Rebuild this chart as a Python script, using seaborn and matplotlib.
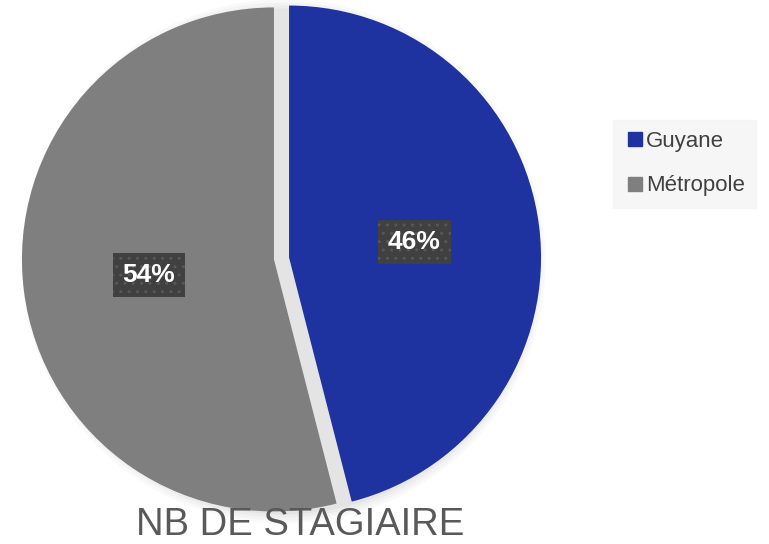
import matplotlib
matplotlib.use("Agg")
import matplotlib.pyplot as plt
import seaborn as sns
from matplotlib.lines import Line2D
from matplotlib.patches import Circle

categories = ["Guyane", "Métropole"]
values = [46, 54]
colors = ["#1F33A0", "#7F7F7F"]
title = "NB DE STAGIAIRE"

sns.set_theme(style="white")
plt.rcParams['font.family'] = ['Liberation Sans', 'DejaVu Sans']

W, H = 769, 544
fig = plt.figure(figsize=(W / 100, H / 100), dpi=100)
ax = fig.add_axes([0, 0, 1, 1])
ax.set_xlim(0, W)
ax.set_ylim(0, H)
ax.set_aspect("equal")
ax.axis("off")

cx, cy, r = 281.5, 285.5, 252

# soft shadow
for i, a in enumerate([0.05, 0.06, 0.07, 0.09]):
    ax.add_patch(Circle((cx + 2, cy - 3), r + 10 - i * 3, color="#9a9a9a", alpha=a, lw=0, zorder=0))

wedges, texts, autotexts = ax.pie(
    values, colors=colors, startangle=90, counterclock=False,
    explode=[7.6, 7.6], center=(cx, cy), radius=r,
    autopct=lambda p: f"{p:.0f}%", pctdistance=0.5,
    wedgeprops=dict(linewidth=0), frame=True,
)
ax.set_xlim(0, W)
ax.set_ylim(0, H)
ax.axis("off")

for t in autotexts:
    t.set_color("white")
    t.set_fontsize(19)
    t.set_fontweight("bold")
    t.set_bbox(dict(boxstyle="square,pad=0.38", facecolor="#404040",
                    edgecolor="#575757", hatch="..", linewidth=0))

handles = [Line2D([0], [0], marker="s", linestyle="", markersize=10,
                  markerfacecolor=c, markeredgecolor=c) for c in colors]
leg = ax.legend(handles, categories, loc="upper left",
                bbox_to_anchor=(613 / W, 1 - 120 / H), bbox_transform=fig.transFigure,
                frameon=True, fontsize=16, labelspacing=1.05, handletextpad=0.0,
                handlelength=1.0, borderpad=0.5, borderaxespad=0)
leg.get_frame().set_facecolor("#F4F4F4")
leg.get_frame().set_edgecolor("#F4F4F4")
leg.get_frame().set_boxstyle("square", pad=0)
for t in leg.get_texts():
    t.set_color("#404040")

fig.text(300 / W, 1 - 525 / H, title, ha="center", va="center",
         fontsize=27.5, color="#595959")

fig.savefig("out.png", dpi=100)
